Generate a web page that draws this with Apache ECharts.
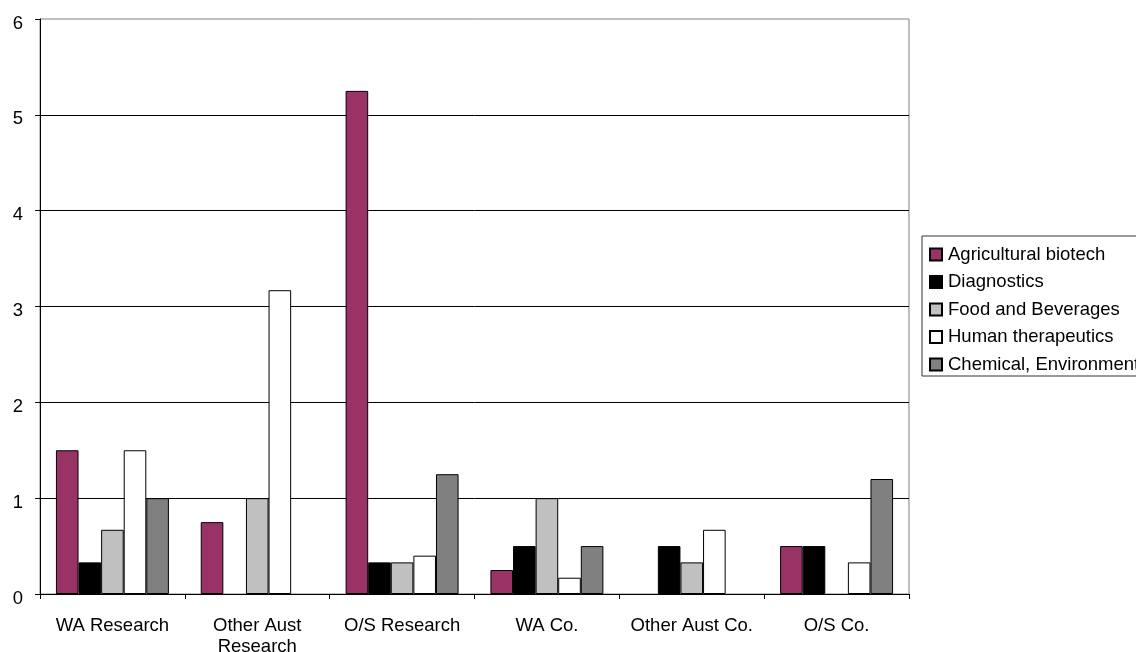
<!DOCTYPE html>
<html>
<head>
<meta charset="utf-8">
<script src="https://cdn.jsdelivr.net/npm/echarts@6/dist/echarts.min.js"></script>
<style>
html,body{margin:0;padding:0;background:#fff;}
#chart{width:1136px;height:652px;}
</style>
</head>
<body>
<div id="chart"></div>
<script>
const categories = ['WA Research', 'Other Aust\nResearch', 'O/S Research', 'WA Co.', 'Other Aust Co.', 'O/S Co.'];
const seriesNames = ['Agricultural biotech', 'Diagnostics', 'Food and Beverages', 'Human therapeutics', 'Chemical, Environmental'];
const agricultural = [1.5, 0.75, 5.25, 0.25, 0, 0.5];
const diagnostics = [0.33, 0, 0.33, 0.5, 0.5, 0.5];
const foodBeverages = [0.67, 1.0, 0.33, 1.0, 0.33, 0];
const humanTherapeutics = [1.5, 3.17, 0.4, 0.17, 0.67, 0.33];
const chemical = [1.0, 0, 1.25, 0.5, 0, 1.2];
const yTicks = [0, 1, 2, 3, 4, 5, 6];

const colors = ['#993366', '#000000', '#C0C0C0', '#FFFFFF', '#808080'];
const values = [agricultural, diagnostics, foodBeverages, humanTherapeutics, chemical];
const font = 'Liberation Sans, Arial, sans-serif';
const fs = 18.5;

const chart = echarts.init(document.getElementById('chart'), null, {renderer: 'canvas'});
chart.setOption({
  animation: false,
  backgroundColor: '#ffffff',
  textStyle: {fontFamily: font},
  grid: {
    left: 40, right: 227, top: 19, bottom: 58,
    outerBoundsMode: 'none',
    containLabel: false,
    show: true, borderColor: '#808080', borderWidth: 1, backgroundColor: 'transparent'
  },
  legend: {
    orient: 'vertical',
    left: 922, top: 236,
    padding: [9, 60, 2, 7],
    icon: 'rect',
    itemWidth: 12, itemHeight: 12, itemGap: 8.5,
    borderColor: '#333333', borderWidth: 1, backgroundColor: '#ffffff',
    textStyle: {fontSize: fs, color: '#000', fontFamily: font, padding: [0, 0, 0, 1]},
    data: seriesNames
  },
  xAxis: {
    type: 'category',
    data: categories,
    axisLine: {show: true, lineStyle: {color: '#000', width: 1}},
    axisTick: {show: true, length: 5, inside: false, lineStyle: {color: '#000'}},
    axisLabel: {fontSize: fs, color: '#000', margin: 21, lineHeight: 21, fontFamily: font, interval: 0},
    splitLine: {show: false}
  },
  yAxis: {
    type: 'value',
    min: 0, max: 6, interval: 1,
    axisLine: {show: true, lineStyle: {color: '#000', width: 1}},
    axisTick: {show: true, length: 5, lineStyle: {color: '#000'}},
    axisLabel: {fontSize: fs, color: '#000', margin: 17, fontFamily: font,
      verticalAlign: 'top', lineHeight: 9,
      formatter: function (v) { return yTicks.indexOf(v) >= 0 ? String(v) : ''; }},
    splitLine: {show: true, showMinLine: false, showMaxLine: false, lineStyle: {color: '#000', width: 1}}
  },
  series: seriesNames.map(function (name, i) {
    return {
      name: name,
      type: 'bar',
      data: values[i].map(function (v) { return v === 0 ? null : v; }),
      barGap: '0%',
      barCategoryGap: '22%',
      itemStyle: {color: colors[i], borderColor: '#000', borderWidth: 1}
    };
  })
});
</script>
</body>
</html>
